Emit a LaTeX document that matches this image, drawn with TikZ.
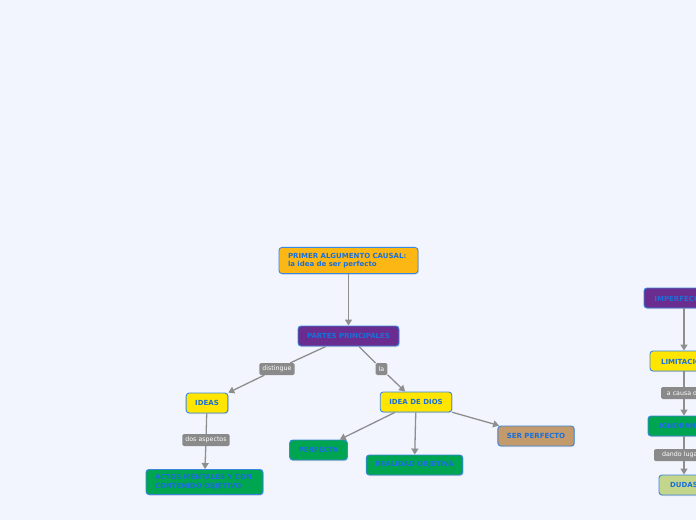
\documentclass[tikz,border=0pt]{standalone}
\usepackage{fontspec}
\setmainfont{DejaVu Sans}
\usetikzlibrary{shadows,arrows.meta}
\definecolor{bg}{HTML}{F2F5FD}
\definecolor{txtblue}{HTML}{1B6FD8}
\definecolor{bordblue}{HTML}{3A86E0}
\definecolor{corange}{HTML}{FDB714}
\definecolor{cpurple}{HTML}{6A2C8E}
\definecolor{cyellow}{HTML}{FFE500}
\definecolor{cgreen}{HTML}{00A551}
\definecolor{ctan}{HTML}{C29A6C}
\definecolor{clgreen}{HTML}{C3D68B}
\definecolor{edgegray}{HTML}{8E8E8E}
\definecolor{labgray}{HTML}{8A8A8A}
\tikzset{
  topic/.style={draw=bordblue, line width=0.9pt, rounded corners=3pt,
    text=txtblue, font=\fontsize{7}{8.5}\selectfont\bfseries,
    inner xsep=9pt, inner ysep=0pt, minimum height=20pt,
    drop shadow={shadow xshift=0.8pt, shadow yshift=-1pt, opacity=0.25}},
  elabel/.style={fill=labgray, rounded corners=1.5pt, text=white,
    font=\fontsize{6.3}{7}\selectfont, inner xsep=3pt, inner ysep=0pt, minimum height=12pt},
  conn/.style={draw=edgegray, line width=1.3pt},
  arr/.style={conn, -{Triangle[length=6pt,width=7pt]}},
}
\begin{document}
\begin{tikzpicture}[x=1pt,y=-1pt]
\fill[bg] (0,0) rectangle (696,520);
\useasboundingbox (0,0) rectangle (696,520);
\clip (0,0) rectangle (696,520);

\node[topic, fill=corange, text width=121pt, align=left, inner ysep=5.5pt] (primer) at (348.5,260.5)
  {PRIMER ALGUMENTO CAUSAL:\\la idea de ser perfecto};
\node[topic, fill=cpurple] (partes) at (348.5,336) {PARTES PRINCIPALES};
\node[elabel] (dist) at (277,369) {distingue};
\node[elabel] (la) at (381.5,369) {la};
\node[topic, fill=cyellow] (ideas) at (207,403) {IDEAS};
\node[elabel] (dos) at (206,440) {dos aspectos};
\node[topic, fill=cgreen, text width=99pt, align=left, inner ysep=5pt] (actos) at (204.5,482)
  {ACTOS MENTALES Y CON\\CONTENIDO OBJETIVO};
\node[topic, fill=cyellow] (dios) at (416,402) {IDEA DE DIOS};
\node[topic, fill=cgreen] (perfecta) at (318.5,450) {PERFECTA};
\node[topic, fill=cgreen] (realidad) at (414.5,465) {REALIDAD OBJETIVA};
\node[topic, fill=ctan] (ser) at (536,436) {SER PERFECTO};

\node[topic, fill=cpurple, minimum width=80pt] (imperf) at (684,298) {IMPERFECCIÓN};
\node[topic, fill=cyellow, minimum width=68pt] (limit) at (684,361) {LIMITACIÓN};
\node[elabel, minimum width=46pt] (causa) at (684,393) {a causa de};
\node[topic, fill=cgreen, minimum width=72pt] (ignor) at (684,426) {IGNORANCIA};
\node[elabel, minimum width=60pt] (dando) at (684,455) {dando lugar a};
\node[topic, fill=clgreen, minimum width=50pt] (dudas) at (684,485) {DUDAS};

\begin{scope}[on background layer/.try]
\end{scope}
\draw[arr] (primer) -- (partes);
\draw[conn] (partes) -- (dist);
\draw[arr] (dist) -- (ideas);
\draw[conn] (partes) -- (la);
\draw[arr] (la) -- (dios);
\draw[conn] (ideas) -- (dos);
\draw[arr] (dos) -- (actos);
\draw[arr] (dios) -- (perfecta);
\draw[arr] (dios) -- (realidad);
\draw[arr] (dios) -- (ser);
\draw[arr] (imperf) -- (limit);
\draw[conn] (limit) -- (causa);
\draw[arr] (causa) -- (ignor);
\draw[conn] (ignor) -- (dando);
\draw[arr] (dando) -- (dudas);
\end{tikzpicture}
\end{document}
